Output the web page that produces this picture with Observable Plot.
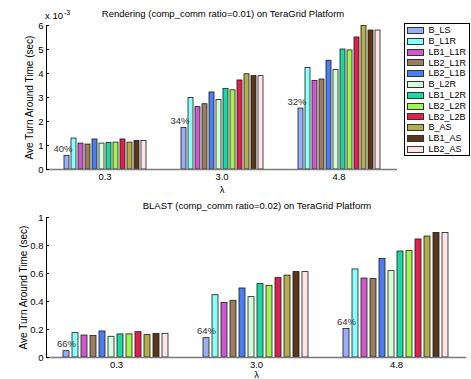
<!DOCTYPE html>
<html><head><meta charset="utf-8">
<script src="https://cdn.jsdelivr.net/npm/d3@7"></script>
<script src="https://cdn.jsdelivr.net/npm/@observablehq/plot@0.6"></script>
<style>
body{margin:0;background:#fff;font-family:"Liberation Sans",Arial,sans-serif;}
#wrap{position:relative;width:471px;height:379px;overflow:hidden;background:#fff;}
.abs{position:absolute;white-space:nowrap;color:#000;}
.panel{position:absolute;left:0;}
</style></head><body>
<div id="wrap"></div>
<script>
// ---- data ----
const groups = ["0.3", "3.0", "4.8"];
const series = ["B_LS","B_L1R","LB1_L1R","LB2_L1R","LB2_L1B","B_L2R","LB1_L2R","LB2_L2R","LB2_L2B","B_AS","LB1_AS","LB2_AS"];
const colors = ["#9aaef8","#8cfffc","#cc5acc","#9b7d5f","#4a7ef2","#d4ffd8","#19d9a0","#a0f550","#e0204e","#b4ad4c","#5a361a","#ffe5e5"];

// Rendering (units of 1e-3 sec), one array per lambda
const rendering03 = [0.57, 1.29, 1.08, 1.04, 1.25, 1.08, 1.11, 1.12, 1.25, 1.12, 1.19, 1.19];
const rendering30 = [1.73, 2.98, 2.60, 2.72, 3.21, 2.90, 3.36, 3.30, 3.71, 3.97, 3.89, 3.89];
const rendering48 = [2.54, 4.23, 3.69, 3.75, 4.53, 4.15, 5.00, 4.96, 5.50, 5.98, 5.79, 5.79];
const renderingPct = ["40%", "34%", "32%"];
const renderingTicks = [0, 1, 2, 3, 4, 5, 6];

// BLAST (sec)
const blast03 = [0.045, 0.174, 0.157, 0.153, 0.186, 0.148, 0.165, 0.165, 0.181, 0.160, 0.169, 0.169];
const blast30 = [0.138, 0.445, 0.389, 0.405, 0.493, 0.431, 0.524, 0.512, 0.567, 0.585, 0.610, 0.610];
const blast48 = [0.203, 0.629, 0.564, 0.560, 0.703, 0.617, 0.757, 0.760, 0.843, 0.864, 0.889, 0.889];
const blastPct = ["66%", "64%", "64%"];
const blastTicks = [0, 0.2, 0.4, 0.6, 0.8, 1];

const renderingTitle = "Rendering (comp_comm ratio=0.01) on TeraGrid Platform";
const blastTitle = "BLAST (comp_comm ratio=0.02) on TeraGrid Platform";
const yLabel = "Ave Turn Around Time (sec)";
const xLabel = "λ";

// ---- build tables ----
function table(arrs) {
  return groups.flatMap((g, gi) => series.map((s, si) => ({group: g, series: s, value: arrs[gi][si]})));
}
function pctTable(arrs, labels) {
  return groups.map((g, gi) => ({group: g, series: series[0], value: arrs[gi][0], label: labels[gi]}));
}

function panel({data, pct, yDomain, yTicks, tickFormat, height, marginTop, marginBottom, marginRight, labelOffset, xLabelOffset, pctDx}) {
  return Plot.plot({
    width: 471, height,
    marginLeft: 45, marginRight, marginTop, marginBottom,
    style: {fontFamily: "Liberation Sans, Arial, sans-serif", fontSize: "9.5px", color: "#000", background: "transparent", overflow: "visible"},
    fx: {domain: groups, padding: 0},
    x: {domain: series, paddingInner: 0.33, paddingOuter: 1.8, axis: null},
    y: {domain: yDomain},
    color: {domain: series, range: colors},
    marks: [
      Plot.barY(data, {fx: "group", x: "series", y: "value", fill: "series", stroke: "#1a1a1a", strokeWidth: 0.8}),
      Plot.ruleY([0], {stroke: "#7a7a7a", strokeWidth: 1.3}),
      Plot.frame({anchor: "left", facetAnchor: "left", stroke: "#000"}),
      Plot.axisY(yTicks, {tickSize: -3, tickPadding: 6, tickFormat, label: null}),
      Plot.axisY({ticks: [], tickSize: 0, label: yLabel, labelAnchor: "center", labelArrow: "none", labelOffset, fontSize: 10}),
      Plot.axisFx({anchor: "bottom", tickSize: 0, tickPadding: 4, label: xLabel, labelAnchor: "center", labelArrow: "none", labelOffset: xLabelOffset}),
      Plot.text(pct, {fx: "group", x: "series", y: "value", text: "label", dy: -7, dx: pctDx, fill: "#333", fontSize: 9.5})
    ]
  });
}

const wrap = document.getElementById("wrap");

const topChart = panel({
  data: table([rendering03, rendering30, rendering48]),
  pct: pctTable([rendering03, rendering30, rendering48], renderingPct),
  yDomain: [0, 6], yTicks: renderingTicks, tickFormat: d => String(d),
  height: 195, marginTop: 25, marginBottom: 26, marginRight: 74, labelOffset: 20.5, xLabelOffset: 23, pctDx: -4
});
const topDiv = document.createElement("div");
topDiv.className = "panel"; topDiv.style.top = "0px";
topDiv.appendChild(topChart);
wrap.appendChild(topDiv);

const bottomChart = panel({
  data: table([blast03, blast30, blast48]),
  pct: pctTable([blast03, blast30, blast48], blastPct),
  yDomain: [0, 1], yTicks: blastTicks, tickFormat: d => d === 0 || d === 1 ? String(d) : d3.format(".1f")(d),
  height: 184, marginTop: 22, marginBottom: 22, marginRight: 4, labelOffset: 27, xLabelOffset: 20, pctDx: 0
});
const botDiv = document.createElement("div");
botDiv.className = "panel"; botDiv.style.top = "195px";
botDiv.appendChild(bottomChart);
wrap.appendChild(botDiv);

// titles
function addText(txt, cx, cy, size) {
  const d = document.createElement("div");
  d.className = "abs";
  d.textContent = txt;
  d.style.fontSize = size + "px";
  d.style.left = cx + "px"; d.style.top = cy + "px";
  d.style.transform = "translate(-50%,-50%)";
  d.style.lineHeight = "1";
  wrap.appendChild(d);
}
addText(renderingTitle, 223, 14, 9.5);
addText(blastTitle, 257, 206, 9.5);

// x 10^-3 multiplier
const mult = document.createElement("div");
mult.className = "abs";
mult.style.left = "45px"; mult.style.top = "11px"; mult.style.fontSize = "9.5px"; mult.style.lineHeight = "1";
mult.innerHTML = "x 10<span style=\"font-size:7px;position:relative;top:-4px;margin-left:1px\">-3</span>";
wrap.appendChild(mult);

// legend
const leg = document.createElement("div");
leg.className = "abs";
leg.style.left = "403.5px"; leg.style.top = "22.5px";
leg.style.width = "64px"; leg.style.height = "131px";
leg.style.border = "1px solid #000"; leg.style.background = "#fff";
wrap.appendChild(leg);
series.forEach((s, i) => {
  const cy = 7 + 10.8 * i;
  const sw = document.createElement("div");
  sw.style.position = "absolute";
  sw.style.left = "2.5px"; sw.style.top = (cy - 3.5) + "px";
  sw.style.width = "15px"; sw.style.height = "5px";
  sw.style.border = "1px solid #333";
  sw.style.background = colors[i];
  leg.appendChild(sw);
  const t = document.createElement("div");
  t.style.position = "absolute";
  t.style.left = "24px"; t.style.top = (cy - 5.4) + "px";
  t.style.lineHeight = "10.8px"; t.style.fontSize = "9px";
  t.textContent = s;
  leg.appendChild(t);
});
</script>
</body></html>
